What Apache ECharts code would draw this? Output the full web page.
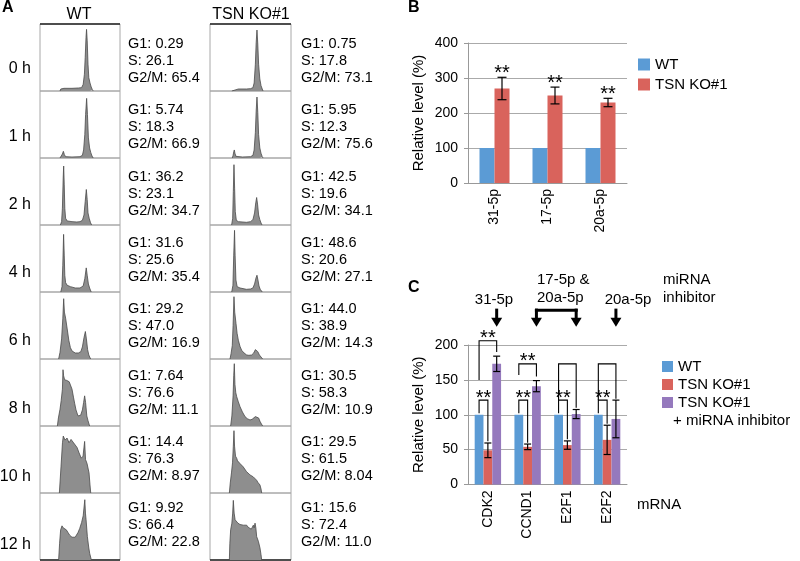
<!DOCTYPE html>
<html>
<head>
<meta charset="utf-8">
<script src="https://cdn.jsdelivr.net/npm/echarts@6/dist/echarts.min.js"></script>
<style>
  html, body { margin: 0; padding: 0; background: #fff; }
  #chart { width: 800px; height: 561px; }
</style>
</head>
<body>
<div id="chart"></div>
<script>
// ---- panel A: DNA content histograms, points are [DNA content, % of box height]
const timeLabels = ['0 h', '1 h', '2 h', '4 h', '6 h', '8 h', '10 h', '12 h'];
const wtStats = [['0.29', '26.1', '65.4'], ['5.74', '18.3', '66.9'], ['36.2', '23.1', '34.7'], ['31.6', '25.6', '35.4'],
  ['29.2', '47.0', '16.9'], ['7.64', '76.6', '11.1'], ['14.4', '76.3', '8.97'], ['9.92', '66.4', '22.8']];
const koStats = [['0.75', '17.8', '73.1'], ['5.95', '12.3', '75.6'], ['42.5', '19.6', '34.1'], ['48.6', '20.6', '27.1'],
  ['44.0', '38.9', '14.3'], ['30.5', '58.3', '10.9'], ['29.5', '61.5', '8.04'], ['15.6', '72.4', '11.0']];

const wt0h = [[25, 0], [26, 3], [30, 4], [40, 4], [48, 4.5], [52, 5], [54, 10], [55.5, 25], [56.5, 50], [57.5, 80], [58.2, 92], [59, 75], [60, 40], [61, 20], [62.5, 12], [64, 6], [65.5, 2], [66.5, 0]];
const wt1h = [[25, 0], [26.5, 2], [28, 6], [29.2, 10], [30.5, 5], [32, 2], [40, 1.5], [50, 2], [53, 4], [54.5, 12], [56, 35], [57, 65], [58.3, 89], [59.3, 65], [60.5, 30], [62, 15], [63.5, 8], [65, 3], [66.5, 0]];
const wt2h = [[25.5, 0], [27, 5], [28, 25], [29, 70], [29.6, 88], [30.3, 60], [31, 25], [32, 10], [34, 6], [40, 5], [46, 4.5], [50, 5], [53, 7], [55, 15], [56.5, 35], [57.9, 53], [59, 38], [60, 18], [61.5, 10], [63, 4], [64.5, 0]];
const wt4h = [[26, 0], [27.5, 8], [28.5, 40], [29.5, 86], [30.3, 55], [31, 25], [32, 14], [34, 10], [38, 8], [44, 6], [50, 6], [54, 9], [56, 20], [57.8, 36], [59, 25], [60.5, 12], [62, 6], [64, 0]];
const wt6h = [[23.3, 0], [25, 10], [27, 30], [28.5, 60], [29.6, 90], [30.5, 70], [32, 61], [34, 45], [36, 28], [38, 17], [40, 12], [44, 9], [48, 9], [51, 11], [53, 18], [55, 32], [56.7, 41], [58, 30], [59.5, 14], [61, 6], [63.3, 0]];
const wt8h = [[21.7, 0], [23, 12], [25, 25], [26.5, 38], [28, 55], [28.75, 84], [29.5, 75], [30.8, 69], [32, 71], [33.5, 68], [35, 69], [36.5, 66], [38.3, 64], [40, 55], [42, 42], [43.3, 34], [45, 24], [47.5, 15], [49, 14], [50.8, 16], [53, 24], [54.5, 35], [55.8, 45], [57, 35], [58.5, 15], [60, 8], [62, 0]];
const wt10h = [[24.2, 0], [26.3, 40], [28.1, 75], [29.1, 85], [31.3, 79], [33.8, 82], [36.3, 75], [38.8, 80], [41.3, 76], [43.8, 77], [46.3, 68], [48.8, 60], [51.6, 52], [53.8, 55], [55.8, 77], [56.9, 50], [58.8, 44], [61.3, 30], [62.5, 12], [63.4, 0]];
const wt12h = [[23.3, 0], [24.5, 25], [25.8, 45], [27.5, 51], [29, 48], [31, 47], [32.9, 45], [35, 41], [37.1, 37], [40, 34], [42.5, 32], [44, 34], [45.4, 36], [47.5, 41], [49.6, 47], [52, 56], [54, 66], [56, 90], [56.8, 70], [57.6, 60], [59.2, 35], [61, 18], [62.1, 10], [64.2, 0]];

const ko0h = [[27, 0], [28, 2.5], [35, 3], [45, 3], [50, 3.5], [53, 5], [54.5, 12], [56, 40], [57, 72], [58, 91], [59, 70], [60, 40], [61.5, 18], [63, 8], [64.5, 3], [65.5, 0]];
const ko1h = [[27.5, 0], [28.5, 4], [29.3, 9], [30, 12], [30.8, 7], [32, 2.5], [40, 1.5], [50, 2], [53, 4], [54.5, 12], [56, 38], [57, 70], [58, 91], [59, 68], [60, 35], [61.5, 15], [63, 7], [64.5, 2], [65.5, 0]];
const ko2h = [[26.7, 0], [28, 10], [28.8, 50], [29.6, 90], [30.4, 55], [31.2, 20], [32.5, 7], [35, 5], [45, 4], [50, 5], [53, 8], [55, 18], [56.5, 33], [57.6, 41], [58.8, 30], [60, 15], [61.5, 8], [63, 3], [64.2, 0]];
const ko4h = [[26.8, 0], [28.3, 10], [29.3, 55], [30.3, 92], [31, 55], [32, 18], [33.5, 8], [37, 6], [45, 4], [50, 4.5], [53, 6], [55, 12], [56.8, 21], [58, 25], [59.2, 18], [60.5, 9], [62, 4], [64.5, 0]];
const ko6h = [[24.7, 0], [26, 8], [27.5, 20], [28.5, 50], [29.6, 93], [30.5, 70], [32.1, 53], [33.5, 38], [35, 28], [37, 19], [39.1, 13], [42, 9], [45.3, 6], [48, 5.5], [51.4, 6], [54, 9], [56, 14], [57.6, 16], [59, 11], [61, 6], [63, 3], [65, 0]];
const ko8h = [[25.5, 0], [27, 15], [28.5, 45], [29.3, 75], [30, 93], [30.8, 62], [31.8, 50], [32.9, 44], [35, 36], [37, 29], [40, 21], [43.2, 14], [46, 11], [49.4, 9], [52, 10], [53.5, 11], [56, 14], [58.4, 16], [60, 12], [61.7, 7], [63.5, 3], [65, 0]];
const ko10h = [[23.9, 0], [25, 15], [26.5, 30], [27.8, 45], [28.8, 70], [29.6, 93], [30.3, 70], [31.5, 55], [32.9, 52], [34, 48], [35, 50], [37, 44], [38.5, 45], [41, 39], [43, 38], [45, 32], [47, 33], [49.4, 27], [51, 26], [53.5, 24], [55, 22], [57.6, 19], [59, 16], [61.7, 12], [63, 6], [63.8, 0]];
const ko12h = [[23.9, 0], [24.5, 25], [25.5, 45], [27, 55], [28, 70], [28.8, 89], [29.8, 70], [31, 60], [32.9, 58], [34.5, 55], [36, 56], [37, 53], [39, 55], [41.1, 52], [43, 50], [45.3, 52], [47, 49], [49.4, 50], [51, 46], [53.5, 52], [54.5, 48], [55.6, 55], [56.6, 48], [57.6, 35], [59.7, 28], [61.7, 18], [63, 8], [63.8, 0]];

const wtHist = [wt0h, wt1h, wt2h, wt4h, wt6h, wt8h, wt10h, wt12h];
const koHist = [ko0h, ko1h, ko2h, ko4h, ko6h, ko8h, ko10h, ko12h];

// ---- panel B: miRNA levels
const mirnaNames = ['31-5p', '17-5p', '20a-5p'];
const mirnaWT = [100, 100, 100];
const mirnaKO = [270, 250, 230];
const mirnaKOErr = [32, 24, 12];
const mirnaStars = ['**', '**', '**'];

// ---- panel C: mRNA levels
const mrnaNames = ['CDK2', 'CCND1', 'E2F1', 'E2F2'];
const mrnaWT = [100, 100, 100, 100];
const mrnaKO = [49, 54, 56.5, 64];
const mrnaKOErr = [10.5, 4, 6, 21];
const mrnaInh = [173, 141, 101, 94];
const mrnaInhErr = [11, 8, 6.5, 27];
// [category, from bar, to bar, top, left leg end, right leg end]
const brackets = [[0, 0, 1, 121, 102, 62], [0, 0, 2, 206, 150, 190],
  [1, 0, 1, 121, 102, 60], [1, 0, 2, 173, 157, 155],
  [2, 0, 1, 121, 102, 65], [2, 0, 2, 173, 121, 110],
  [3, 0, 1, 121, 102, 87], [3, 0, 2, 173, 121, 123]];
const bracketStars = ['**', '**', '**', '**', '**', '', '**', ''];
const inhibitorTargets = [[0, 0], [1, 2], [3, 3]];

const FONT = '"Liberation Sans", Arial, Helvetica, sans-serif';
const BLUE = '#5b9bd5', RED = '#d9635c', PURPLE = '#9579bd';

const chart = echarts.init(document.getElementById('chart'));

const grid = [], xAxis = [], yAxis = [], series = [];
const histLeft = [40, 210], histWidth = [80, 81];

[wtHist, koHist].forEach((col, c) => {
  col.forEach((d, r) => {
    const gi = grid.length;
    grid.push({ left: histLeft[c], top: 24 + 67 * r, width: histWidth[c], height: 67,
      show: true, borderColor: '#a8a8a8', borderWidth: 1 });
    xAxis.push({ gridIndex: gi, type: 'value', min: 0, max: 100, show: false });
    yAxis.push({ gridIndex: gi, type: 'value', min: 0, max: 100, show: false });
    series.push({ type: 'line', xAxisIndex: gi, yAxisIndex: gi, data: d, symbol: 'none',
      lineStyle: { color: '#4a4a4a', width: 0.8 }, areaStyle: { color: '#8e8e8e', opacity: 1 }, silent: true });
  });
});

function barAxes(gi, cats, max, interval) {
  xAxis.push({ gridIndex: gi, type: 'category', data: cats,
    axisLine: { lineStyle: { color: '#999' } }, axisTick: { show: false },
    axisLabel: { rotate: 90, margin: 6, color: '#000', fontSize: 14, fontFamily: FONT } });
  yAxis.push({ gridIndex: gi, type: 'value', min: 0, max: max, interval: interval,
    name: 'Relative level (%)', nameLocation: 'middle', nameGap: 42,
    nameTextStyle: { color: '#000', fontSize: 15, fontFamily: FONT },
    axisLine: { show: true, lineStyle: { color: '#999' } },
    axisTick: { show: true, length: 4, lineStyle: { color: '#999' } },
    splitLine: { lineStyle: { color: '#aaa' } },
    axisLabel: { margin: 10, color: '#000', fontSize: 14, fontFamily: FONT } });
}

function starText(x, y, s) {
  return { type: 'text', x: x, y: y + 4, style: { text: s, font: '20px ' + FONT, fill: '#000',
    align: 'center', verticalAlign: 'middle', textAlign: 'center', textVerticalAlign: 'middle' } };
}

function errorSeries(gi, vals, errs, offset, capW, stars) {
  return {
    type: 'custom', xAxisIndex: gi, yAxisIndex: gi, clip: false, silent: true, z: 5,
    data: vals.map((v, i) => [i, v, errs[i]]),
    encode: { x: 0, y: 1 },
    renderItem: (p, api) => {
      const i = api.value(0), v = api.value(1), e = api.value(2);
      const x = api.coord([i, v])[0] + offset;
      const y1 = api.coord([i, v + e])[1], y2 = api.coord([i, v - e])[1];
      const ls = { stroke: '#000', lineWidth: 1.2 };
      const children = [
        { type: 'line', shape: { x1: x, y1: y1, x2: x, y2: y2 }, style: ls },
        { type: 'line', shape: { x1: x - capW / 2, y1: y1, x2: x + capW / 2, y2: y1 }, style: ls },
        { type: 'line', shape: { x1: x - capW / 2, y1: y2, x2: x + capW / 2, y2: y2 }, style: ls }
      ];
      if (stars && stars[i]) children.push(starText(x, y1 - 8, stars[i]));
      return { type: 'group', children: children };
    }
  };
}

// panel B
const gB = grid.length;
grid.push({ left: 468, top: 43, width: 159, height: 140 });
barAxes(gB, mirnaNames, 400, 100);
const bwB = 15;
series.push({ name: 'WT', type: 'bar', xAxisIndex: gB, yAxisIndex: gB, data: mirnaWT,
  barWidth: bwB, barGap: '0%', itemStyle: { color: BLUE } });
series.push({ name: 'TSN KO#1', type: 'bar', xAxisIndex: gB, yAxisIndex: gB, data: mirnaKO,
  barWidth: bwB, barGap: '0%', itemStyle: { color: RED } });
series.push(errorSeries(gB, mirnaKO, mirnaKOErr, bwB / 2, 9, mirnaStars));

// panel C
const gC = grid.length;
grid.push({ left: 468, top: 345, width: 159, height: 139.5 });
barAxes(gC, mrnaNames, 200, 50);
const bwC = 8.8;
series.push({ name: 'WT', type: 'bar', xAxisIndex: gC, yAxisIndex: gC, data: mrnaWT,
  barWidth: bwC, barGap: '0%', itemStyle: { color: BLUE } });
series.push({ name: 'TSN KO#1', type: 'bar', xAxisIndex: gC, yAxisIndex: gC, data: mrnaKO,
  barWidth: bwC, barGap: '0%', itemStyle: { color: RED } });
series.push({ name: 'TSN KO#1 + miRNA inhibitor', type: 'bar', xAxisIndex: gC, yAxisIndex: gC, data: mrnaInh,
  barWidth: bwC, barGap: '0%', itemStyle: { color: PURPLE } });
series.push(errorSeries(gC, mrnaKO, mrnaKOErr, 0, 7, null));
series.push(errorSeries(gC, mrnaInh, mrnaInhErr, bwC, 7, null));

// significance brackets
series.push({
  type: 'custom', xAxisIndex: gC, yAxisIndex: gC, clip: false, silent: true, z: 6,
  data: brackets, encode: { x: 0, y: 3 },
  renderItem: (p, api) => {
    const c = api.value(0);
    const cx = api.coord([c, 0])[0];
    const xa = cx + (api.value(1) - 1) * bwC, xb = cx + (api.value(2) - 1) * bwC;
    const yt = api.coord([c, api.value(3)])[1];
    const ya = api.coord([c, api.value(4)])[1], yb = api.coord([c, api.value(5)])[1];
    const ls = { stroke: '#000', lineWidth: 1.1, fill: null };
    const children = [{ type: 'polyline', shape: { points: [[xa, ya], [xa, yt], [xb, yt], [xb, yb]] }, style: ls }];
    const s = bracketStars[p.dataIndex];
    if (s) children.push(starText((xa + xb) / 2, yt - 6, s));
    return { type: 'group', children: children };
  }
});

// miRNA inhibitor arrows
series.push({
  type: 'custom', xAxisIndex: gC, yAxisIndex: gC, clip: false, silent: true, z: 6,
  data: inhibitorTargets, encode: { x: 0 },
  renderItem: (p, api) => {
    const a = api.value(0), b = api.value(1);
    const xa = api.coord([a, 0])[0] + bwC, xb = api.coord([b, 0])[0] + bwC;
    const yTop = api.coord([a, 250])[1], yTip = api.coord([a, 226])[1];
    const st = { stroke: '#000', lineWidth: 3 };
    const children = [];
    [xa, xb].forEach((x, k) => {
      if (k === 1 && a === b) return;
      children.push({ type: 'line', shape: { x1: x, y1: yTop - 1.5, x2: x, y2: yTip - 7 }, style: st });
      children.push({ type: 'polygon', shape: { points: [[x - 5.5, yTip - 9], [x + 5.5, yTip - 9], [x, yTip]] },
        style: { fill: '#000' } });
    });
    if (a !== b) children.push({ type: 'line', shape: { x1: xa - 1.5, y1: yTop, x2: xb + 1.5, y2: yTop }, style: st });
    return { type: 'group', children: children };
  }
});

// ---- text annotations
function txt(x, y, s, size, align, weight) {
  return { type: 'text', x: x, y: y, silent: true,
    style: { text: s, font: (weight ? weight + ' ' : '') + size + 'px ' + FONT, fill: '#000',
      align: align, textAlign: align, verticalAlign: 'middle', textVerticalAlign: 'middle' } };
}
function hline(x1, x2, y, w) {
  return { type: 'line', silent: true, shape: { x1: x1, y1: y, x2: x2, y2: y }, style: { stroke: '#222', lineWidth: w } };
}

const graphic = [
  txt(2, 8, 'A', 16, 'left', 'bold'),
  txt(408, 8, 'B', 16, 'left', 'bold'),
  txt(408, 288, 'C', 16, 'left', 'bold'),
  txt(79, 15, 'WT', 16, 'center'),
  txt(251, 15, 'TSN KO#1', 16, 'center'),
  hline(40, 120, 24, 1.5), hline(210, 291, 24, 1.5),
  hline(40, 120, 560, 1.5), hline(210, 291, 560, 1.5),
  txt(494, 300, '31-5p', 15, 'center'),
  txt(537, 280, '17-5p &', 15, 'left'),
  txt(537, 298, '20a-5p', 15, 'left'),
  txt(628, 300, '20a-5p', 15, 'center'),
  txt(663, 280, 'miRNA', 15, 'left'),
  txt(663, 298, 'inhibitor', 15, 'left'),
  txt(637, 505, 'mRNA', 15, 'left'),
  txt(673, 421, '+ miRNA inhibitor', 15, 'left')
];
timeLabels.forEach((t, i) => graphic.push(txt(31, 69 + 68 * i, t, 16, 'right')));
[wtStats, koStats].forEach((col, c) => {
  col.forEach((s, i) => {
    graphic.push({ type: 'text', x: c === 0 ? 128 : 301, y: 44 + 66.3 * i - 8.5, silent: true,
      style: { text: 'G1: ' + s[0] + '\nS: ' + s[1] + '\nG2/M: ' + s[2], font: '14.5px ' + FONT,
        fill: '#000', lineHeight: 17, align: 'left', textAlign: 'left', verticalAlign: 'top', textVerticalAlign: 'top' } });
  });
});

chart.setOption({
  animation: false,
  backgroundColor: '#fff',
  textStyle: { fontFamily: FONT },
  grid: grid,
  xAxis: xAxis,
  yAxis: yAxis,
  legend: [
    { orient: 'vertical', left: 633, top: 52, itemWidth: 12, itemHeight: 12, itemGap: 5, icon: 'rect',
      selectedMode: false, data: ['WT', 'TSN KO#1'],
      textStyle: { fontSize: 15, color: '#000', fontFamily: FONT } },
    { orient: 'vertical', left: 657, top: 354, itemWidth: 11, itemHeight: 11, itemGap: 3, icon: 'rect',
      selectedMode: false, data: ['WT', 'TSN KO#1', 'TSN KO#1 + miRNA inhibitor'],
      formatter: n => n === 'TSN KO#1 + miRNA inhibitor' ? 'TSN KO#1' : n,
      textStyle: { fontSize: 15, color: '#000', fontFamily: FONT } }
  ],
  graphic: graphic,
  series: series
});
</script>
</body>
</html>
